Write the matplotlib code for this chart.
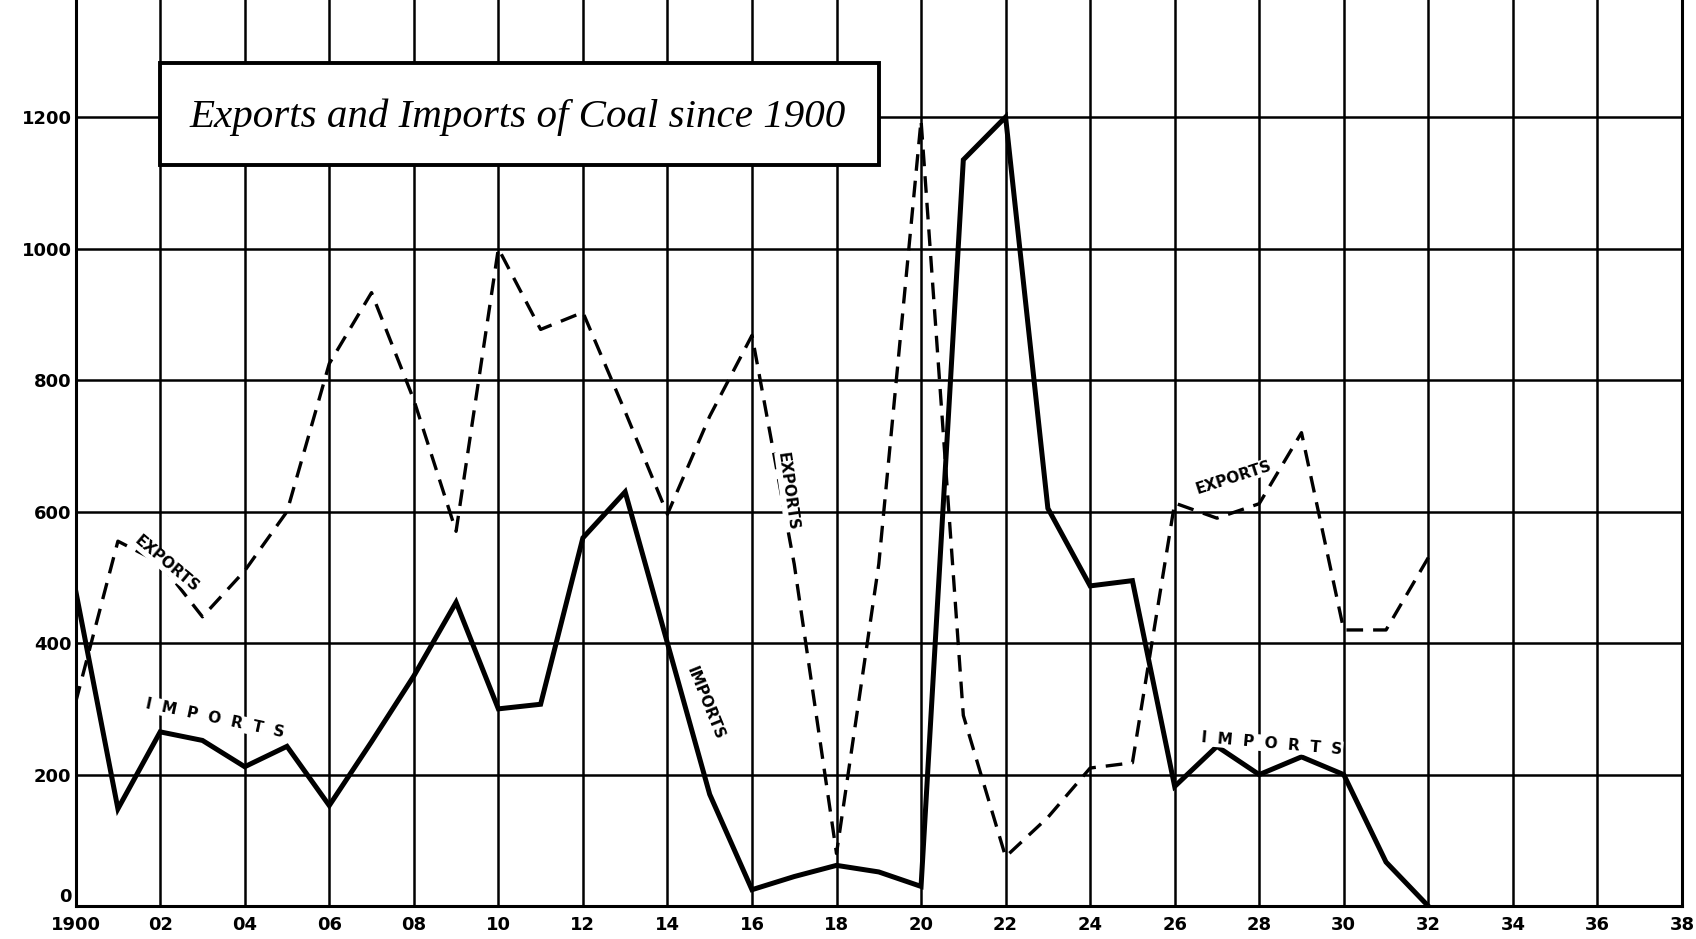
import matplotlib
matplotlib.use("Agg")
import matplotlib.pyplot as plt
from matplotlib.patches import Rectangle

years = list(range(1900, 1933))
imports = [480, 148, 265, 252, 212, 243, 153, 250, 350, 462, 300, 307, 560, 630,
           400, 170, 25, 45, 62, 52, 30, 1135, 1200, 605, 487, 495, 182, 243, 200,
           227, 200, 67, 0]
exports = [310, 555, 522, 440, 510, 600, 825, 933, 770, 570, 1000, 877, 903, 752,
           596, 745, 868, 520, 80, 520, 1195, 290, 75, 135, 210, 218, 613, 590, 612,
           720, 420, 420, 530]

x_ticks = list(range(1900, 1939, 2))
x_labels = ["1900"] + ["%02d" % (y % 100) for y in x_ticks[1:]]
y_ticks = [0, 200, 400, 600, 800, 1000, 1200]
title = "Exports and Imports of Coal since 1900"

fig = plt.figure(figsize=(16.96, 9.39), dpi=100)
ax = fig.add_axes([0.0446, 0.035, 0.9471, 0.965])
ax.set_xlim(1900, 1938)
ax.set_ylim(0, 1378)

for x in x_ticks:
    ax.axvline(x, color="black", lw=1.8, zorder=1)
for y in y_ticks:
    ax.axhline(y, color="black", lw=1.8, zorder=1)

ax.plot(years, imports, color="black", lw=3.6, solid_joinstyle="miter", zorder=3)
ax.plot(years, exports, color="black", lw=2.4, dashes=(5, 3), zorder=3)

ax.spines["top"].set_visible(False)
for s in ["left", "bottom", "right"]:
    ax.spines[s].set_linewidth(2.2)

tick_font = dict(fontsize=13, fontweight="heavy", family="DejaVu Sans")
ax.set_xticks(x_ticks)
ax.set_xticklabels(x_labels, **tick_font)
ax.set_yticks(y_ticks)
ax.set_yticklabels([str(v) for v in y_ticks], **tick_font)
ax.tick_params(axis="y", length=0, pad=3)
ax.tick_params(axis="x", length=0, pad=7)
ax.get_yticklabels()[0].set_verticalalignment("bottom")

ax.add_patch(Rectangle((1902.0, 1127), 17.0, 155, fc="white", ec="black", lw=2.8, zorder=5))
ax.text(1910.45, 1200, title, fontsize=29.5, style="italic", family="Liberation Serif",
        ha="center", va="center", zorder=6)

lab = dict(fontsize=11, fontweight="bold", family="DejaVu Sans", ha="center", va="center",
           zorder=4, bbox=dict(fc="white", ec="none", pad=0.5))
ax.text(1902.15, 520, "EXPORTS", rotation=-40, **lab)
ax.text(1903.3, 285, "I  M  P  O  R  T  S", rotation=-12, **lab)
ax.text(1916.85, 630, "EXPORTS", rotation=-82, **lab)
ax.text(1914.9, 309, "IMPORTS", rotation=-68, **lab)
ax.text(1927.4, 652, "EXPORTS", rotation=18, **lab)
ax.text(1928.3, 247, "I  M  P  O  R  T  S", rotation=-5, **lab)

fig.savefig("out.png", dpi=100)
